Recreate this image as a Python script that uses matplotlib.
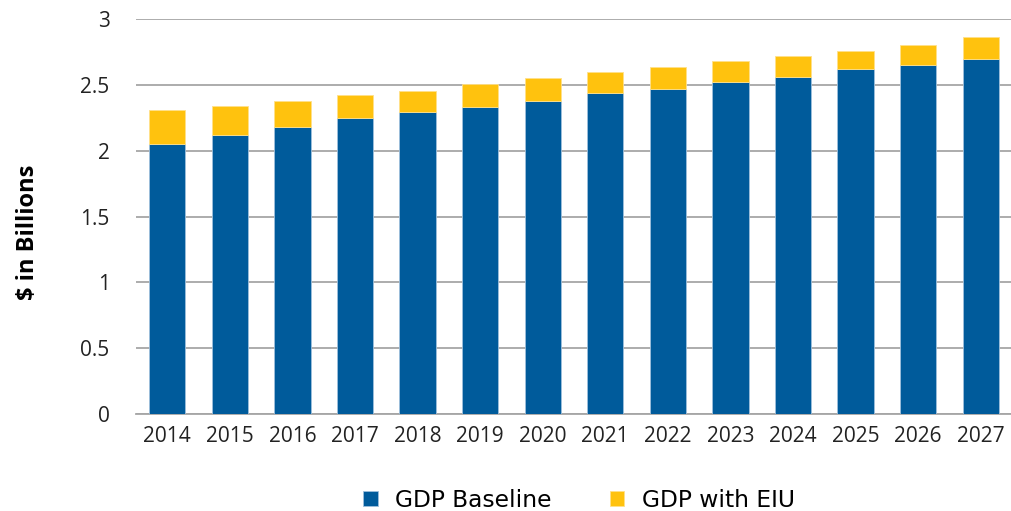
import matplotlib.pyplot as plt
import numpy as np

years = ["2014", "2015", "2016", "2017", "2018", "2019", "2020",
         "2021", "2022", "2023", "2024", "2025", "2026", "2027"]
gdp_baseline = [2.05, 2.12, 2.18, 2.25, 2.29, 2.33, 2.38,
                2.44, 2.47, 2.52, 2.56, 2.62, 2.65, 2.70]
gdp_with_eiu = [2.31, 2.34, 2.38, 2.425, 2.45, 2.505, 2.55,
                2.595, 2.635, 2.68, 2.72, 2.76, 2.80, 2.86]
eiu_increment = [t - b for t, b in zip(gdp_with_eiu, gdp_baseline)]

blue = "#005b9b"
gold = "#ffc20e"

fig = plt.figure(figsize=(10.12, 5.11), dpi=100)
ax = fig.add_axes([136 / 1012, 1 - 414 / 511, 876 / 1012, 395 / 511])

x = np.arange(len(years))
w = 0.58
ax.bar(x, gdp_baseline, width=w, color=blue, edgecolor="#9fc0dc", linewidth=0.6,
       label="GDP Baseline", zorder=3)
ax.bar(x, eiu_increment, bottom=gdp_baseline, width=w, color=gold,
       edgecolor="#ffe08a", linewidth=0.6, label="GDP with EIU", zorder=3)

ax.set_xlim(-0.5, len(years) - 0.5)
ax.set_ylim(0, 3)
ax.set_yticks([0, 0.5, 1, 1.5, 2, 2.5, 3])
ax.set_yticklabels(["0", "0.5", "1", "1.5", "2", "2.5", "3"])
ax.set_xticks(x)
ax.set_xticklabels(years)
ax.yaxis.grid(True, color="#a6a6a6", linewidth=1.3, zorder=0)
ax.set_axisbelow(True)
for s in ["top", "right", "left"]:
    ax.spines[s].set_visible(False)
ax.spines["bottom"].set_color("#a6a6a6")
ax.spines["bottom"].set_linewidth(1.3)
ax.tick_params(axis="y", length=0, pad=19, labelsize=15, labelcolor="#222222")
ax.tick_params(axis="x", length=0, pad=9, labelsize=15, labelcolor="#222222")
for lab in ax.get_xticklabels() + ax.get_yticklabels():
    lab.set_family("Open Sans")

fig.text(0.0277, 1 - 232 / 511, "$ in Billions", rotation=90, ha="center", va="center",
         fontsize=17, fontweight="bold", family="Open Sans")

leg = fig.legend(loc="center", bbox_to_anchor=(579 / 1012, 1 - 500 / 511), ncol=2,
                 frameon=False, handlelength=0.62, handleheight=0.62,
                 columnspacing=2.5, handletextpad=0.75,
                 prop={"family": "DejaVu Sans", "size": 16.8})

fig.savefig("out.png", dpi=100)
